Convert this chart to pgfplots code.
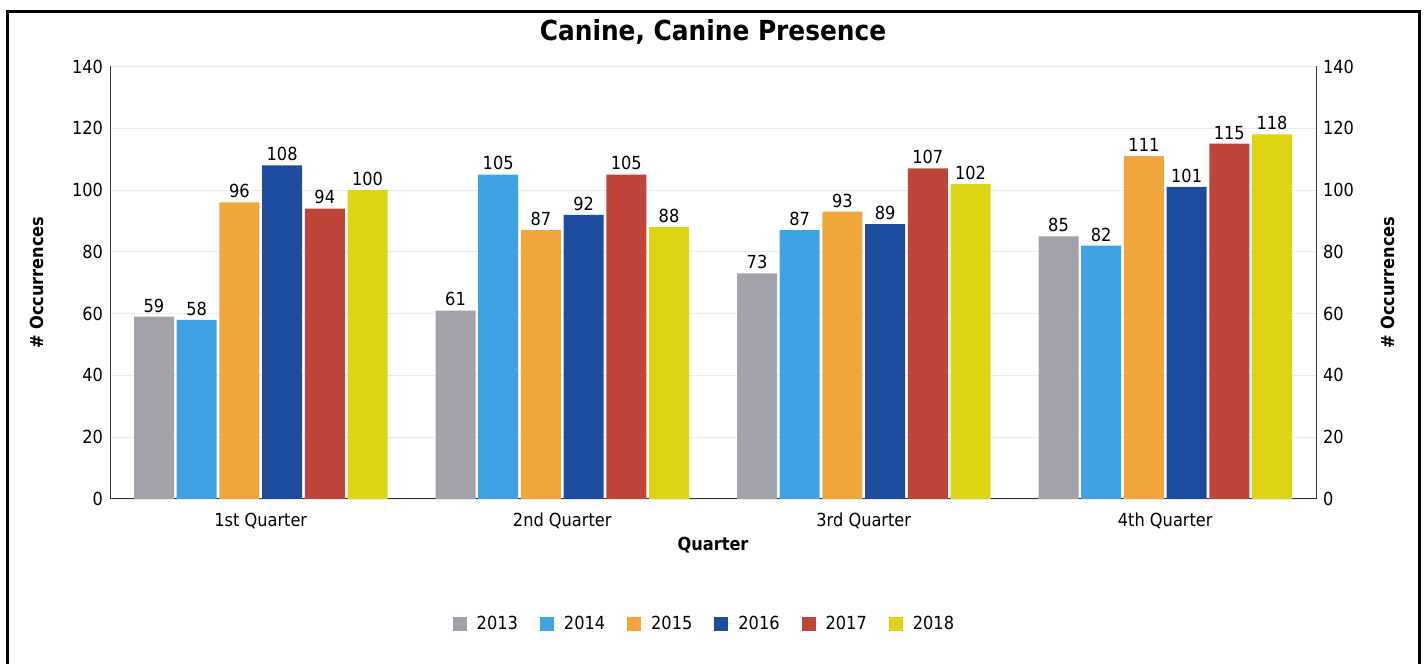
\documentclass[border=0pt]{standalone}
\usepackage{fontspec}
\setmainfont{DejaVu Sans}[FakeStretch=0.9]
\usepackage{pgfplots}
\pgfplotsset{compat=1.18}
\definecolor{c13}{HTML}{A2A2AA}
\definecolor{c14}{HTML}{3FA2E2}
\definecolor{c15}{HTML}{F0A63A}
\definecolor{c16}{HTML}{1D4C9E}
\definecolor{c17}{HTML}{BF453A}
\definecolor{c18}{HTML}{DDD414}
\pgfplotsset{/pgf/number format/assume math mode=true}
\pgfplotsset{
  mybar/.style={draw=none, fill=#1,
    legend image code/.code={\path (0pt,0pt) -- (10pt,0pt);\fill[#1,draw=none] (0pt,-3.5pt) rectangle (7pt,3.5pt);}},
}
\begin{document}
\begin{tikzpicture}
\useasboundingbox (0pt,0pt) rectangle (713.5pt,331.5pt);
\draw[line width=1.5pt] (3.5pt,-5pt) -- (3.5pt,325.5pt) -- (709.5pt,325.5pt) -- (709.5pt,-5pt);
\begin{axis}[
  at={(55pt,82pt)}, anchor=south west, scale only axis,
  width=603pt, height=216.25pt,
  xmin=-0.5, xmax=3.5, ymin=0, ymax=140,
  enlargelimits=false,
  ybar=1.35pt, bar width=20pt,
  axis y line*=left, axis x line*=bottom,
  axis line style={black!80, line width=0.5pt},
  major tick length=0pt,
  xtick={0,1,2,3},
  xticklabels={1st Quarter,2nd Quarter,3rd Quarter,4th Quarter},
  xticklabel style={yshift=-3.5pt},
  ytick={0,20,...,140},
  ymajorgrids, grid style={black!8, line width=0.4pt},
  tick label style={font=\fontsize{9}{10}\selectfont},
  xlabel={Quarter},
  xlabel style={font=\bfseries\fontsize{9}{10}\selectfont, at={(axis description cs:0.5,-0.106)}, anchor=center},
  ylabel={\# Occurrences},
  every axis y label/.style={font=\bfseries\fontsize{9}{10}\selectfont, at={(axis description cs:-0.0605,0.5)}, anchor=center, rotate=90},
  title={Canine, Canine Presence},
  title style={font=\bfseries\fontsize{13.8}{15}\selectfont, at={(axis description cs:0.5,1.052)}, anchor=center},
  nodes near coords,
  every node near coord/.append style={font=\fontsize{9}{10}\selectfont, black, inner sep=2pt},
  legend columns=6,
  legend style={draw=none, fill=none, at={(axis description cs:0.4937,-0.289)}, anchor=center,
    font=\fontsize{9}{10}\selectfont,
    /tikz/every even column/.append style={column sep=9pt}},
]
\addplot[mybar=c13] coordinates {(0,59) (1,61) (2,73) (3,85)};
\addplot[mybar=c14] coordinates {(0,58) (1,105) (2,87) (3,82)};
\addplot[mybar=c15] coordinates {(0,96) (1,87) (2,93) (3,111)};
\addplot[mybar=c16] coordinates {(0,108) (1,92) (2,89) (3,101)};
\addplot[mybar=c17] coordinates {(0,94) (1,105) (2,107) (3,115)};
\addplot[mybar=c18] coordinates {(0,100) (1,88) (2,102) (3,118)};
\legend{2013,2014,2015,2016,2017,2018}
\end{axis}
\begin{axis}[
  at={(55pt,82pt)}, anchor=south west, scale only axis,
  width=603pt, height=216.25pt,
  xmin=-0.5, xmax=3.5, ymin=0, ymax=140,
  enlargelimits=false,
  axis x line=none, axis y line*=right,
  axis line style={black!80, line width=0.5pt},
  major tick length=0pt,
  ytick={0,20,...,140},
  tick label style={font=\fontsize{9}{10}\selectfont},
  ylabel={\# Occurrences},
  every axis y label/.style={font=\bfseries\fontsize{9}{10}\selectfont, at={(axis description cs:1.0597,0.5)}, anchor=center, rotate=90},
]
\addplot[draw=none] coordinates {(0,0)};
\end{axis}
\end{tikzpicture}
\end{document}
